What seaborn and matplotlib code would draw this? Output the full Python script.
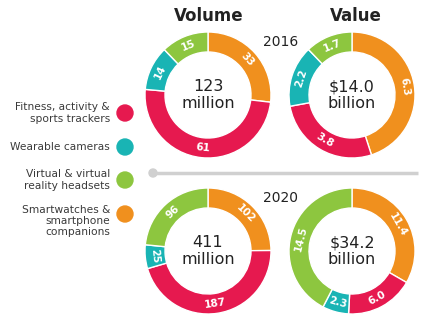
import numpy as np
import matplotlib
matplotlib.use("Agg")
import matplotlib.pyplot as plt
import seaborn as sns
from matplotlib.patches import Circle

sns.set_theme(style="white")
plt.rcParams['font.family'] = ['DejaVu Sans']

# ---- data ----
categories = ["Fitness, activity &\nsports trackers", "Wearable cameras",
              "Virtual & virtual\nreality headsets", "Smartwatches &\nsmartphone\ncompanions"]
# clockwise order from 12 o'clock: smartwatches, fitness, cameras, VR
volume_2016 = [33, 61, 14, 15]
value_2016 = [6.3, 3.8, 2.2, 1.7]
volume_2020 = [102, 187, 25, 96]
value_2020 = [11.4, 6.0, 2.3, 14.5]
vol_labels_2016 = ["33", "61", "14", "15"]
val_labels_2016 = ["6.3", "3.8", "2.2", "1.7"]
vol_labels_2020 = ["102", "187", "25", "96"]
val_labels_2020 = ["11.4", "6.0", "2.3", "14.5"]
centers_text = ["123\nmillion", "$14.0\nbillion", "411\nmillion", "$34.2\nbillion"]
years = ["2016", "2020"]
titles = ["Volume", "Value"]

red, teal, green, orange = "#E6194F", "#19B4B4", "#8DC63F", "#F0901E"
legend_colors = [red, teal, green, orange]
ring_colors = [orange, red, teal, green]

W, H = 443, 332
fig = plt.figure(figsize=(W / 100, H / 100), dpi=100)
ax = fig.add_axes([0, 0, 1, 1])

def Y(y):
    return H - y

R, width = 63, 20

def donut(cx, cy, vals, labs, center_txt):
    wedges, texts = ax.pie(vals, labels=labs, colors=ring_colors, startangle=90,
                           counterclock=False, radius=R, center=(cx, Y(cy)),
                           labeldistance=(R - width / 2) / R,
                           wedgeprops=dict(width=width, edgecolor="white", linewidth=1),
                           textprops=dict(color="white", fontsize=7.5, fontweight="bold"))
    for w, t in zip(wedges, texts):
        ang = (w.theta1 + w.theta2) / 2
        rot = ang - 90
        while rot > 90:
            rot -= 180
        while rot <= -90:
            rot += 180
        t.set_rotation(rot)
        t.set_rotation_mode("anchor")
        t.set_ha("center")
        t.set_va("center")
    ax.text(cx, Y(cy), center_txt, ha="center", va="center", fontsize=11.5,
            color="#222222", linespacing=1.15)

donut(208, 95, volume_2016, vol_labels_2016, centers_text[0])
donut(352, 95, value_2016, val_labels_2016, centers_text[1])
donut(208, 251, volume_2020, vol_labels_2020, centers_text[2])
donut(352, 251, value_2020, val_labels_2020, centers_text[3])

# titles and years
ax.text(209, Y(16), titles[0], ha="center", va="center", fontsize=12, fontweight="bold", color="#222222")
ax.text(356, Y(16), titles[1], ha="center", va="center", fontsize=12, fontweight="bold", color="#222222")
ax.text(281, Y(42), years[0], ha="center", va="center", fontsize=10, color="#222222")
ax.text(281, Y(198), years[1], ha="center", va="center", fontsize=10, color="#222222")

# separator line
ax.plot([153, 418], [Y(173), Y(173)], color="#D0D0D0", lw=2.5, solid_capstyle="butt")
ax.add_patch(Circle((153, Y(173)), 4, color="#D0D0D0"))

# legend
legend_text_y = [113, 147, 180, 221]
legend_dot_y = [113, 147, 180, 214]
for lab, c, ty, dy in zip(categories, legend_colors, legend_text_y, legend_dot_y):
    ax.text(110, Y(ty), lab, ha="right", va="center", fontsize=7.7, color="#3a3a3a",
            linespacing=1.15)
    ax.add_patch(Circle((125, Y(dy)), 8, color=c))

ax.set_xlim(0, W)
ax.set_ylim(0, H)
ax.set_aspect("equal")
ax.axis("off")
fig.savefig("out.png", dpi=100, facecolor="white")
